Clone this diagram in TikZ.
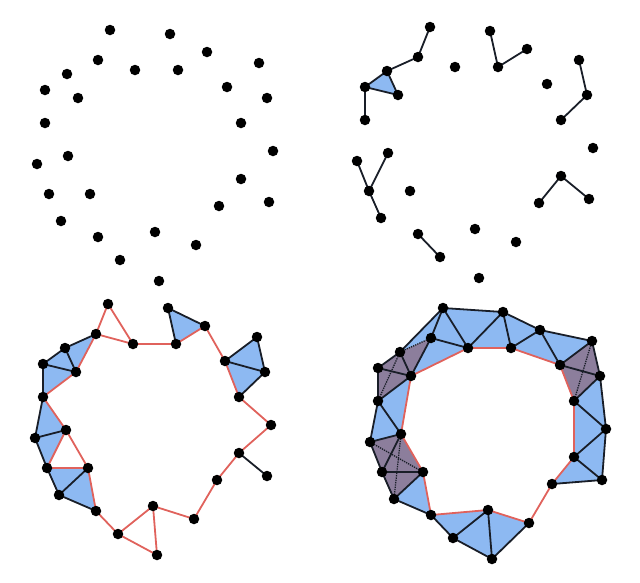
\documentclass[tikz,border=0pt]{standalone}
\definecolor{triblue}{RGB}{141,185,242}
\definecolor{tetpurple}{RGB}{140,126,156}
\definecolor{cycred}{RGB}{224,98,92}
\definecolor{edgeblack}{RGB}{25,30,40}
\tikzset{
  dot/.style={circle,fill=black,inner sep=0pt,minimum size=10.5pt},
  edge/.style={draw=edgeblack,line width=1.8pt},
  cyc/.style={draw=cycred,line width=1.8pt},
  hid/.style={draw=edgeblack,densely dotted,line width=1.3pt},
  tri/.style={fill=triblue},
  tet/.style={fill=tetpurple},
}
% the same point cloud in every panel
\newcommand{\setpoints}[1]{%
  \coordinate (#11) at (110,30);
  \coordinate (#12) at (170,34);
  \coordinate (#13) at (207,52);
  \coordinate (#14) at (259,63);
  \coordinate (#15) at (98,60);
  \coordinate (#16) at (67,74);
  \coordinate (#17) at (135,70);
  \coordinate (#18) at (178,70);
  \coordinate (#19) at (227,87);
  \coordinate (#110) at (45,90);
  \coordinate (#111) at (78,98);
  \coordinate (#112) at (267,98);
  \coordinate (#113) at (45,123);
  \coordinate (#114) at (241,123);
  \coordinate (#115) at (273,151);
  \coordinate (#116) at (68,156);
  \coordinate (#117) at (37,164);
  \coordinate (#118) at (241,179);
  \coordinate (#119) at (49,194);
  \coordinate (#120) at (90,194);
  \coordinate (#121) at (219,206);
  \coordinate (#122) at (269,202);
  \coordinate (#123) at (61,221);
  \coordinate (#124) at (98,237);
  \coordinate (#125) at (155,232);
  \coordinate (#126) at (196,245);
  \coordinate (#127) at (120,260);
  \coordinate (#128) at (159,281);
}
\newcommand{\putdots}[1]{%
  \foreach \i in {1,...,28} \node[dot] (#1d\i) at (#1\i) {};
}

\begin{document}
\begin{tikzpicture}[x=1pt,y=-1pt]
  \useasboundingbox (0,0) rectangle (640,582);

  % points only
  \begin{scope}
    \setpoints{a}
    \putdots{a}
  \end{scope}

  % first edges
  \begin{scope}[shift={(320,-3)}]
    \setpoints{b}
    \fill[tri] (b6) -- (b10) -- (b11) -- cycle;
    \foreach \u/\v in {1/5,5/6,6/10,6/11,10/11,10/13,2/8,8/3,4/12,12/14,
                       17/19,16/19,19/23,18/21,18/22,24/27}
      \draw[edge] (b\u) -- (b\v);
    \putdots{b}
  \end{scope}

  % a cycle appears
  \begin{scope}[shift={(-2,274)}]
    \setpoints{c}
    \foreach \u/\v/\w in {2/3/8,4/9/12,9/12/14,5/6/11,6/10/11,10/11/13,
                          13/16/17,16/17/19,19/20/23,20/23/24}
      \fill[tri] (c\u) -- (c\v) -- (c\w) -- cycle;
    \foreach \u/\v in {2/3,2/8,4/9,4/12,9/12,12/14,18/22,20/23,23/24,19/23,
                       17/19,16/17,13/17,10/13,10/11,6/10,6/11,5/6}
      \draw[edge] (c\u) -- (c\v);
    \foreach \u/\v in {1/5,1/7,5/7,7/8,8/3,3/9,9/14,14/15,15/18,18/21,21/26,
                       26/25,25/27,25/28,27/28,27/24,24/20,20/19,19/16,16/20,
                       16/13,13/11,11/5}
      \draw[cyc] (c\u) -- (c\v);
    \putdots{c}
  \end{scope}

  % the ring filled in
  \begin{scope}[shift={(333,278)}]
    \setpoints{d}
    \foreach \u/\v/\w in {1/2/7,2/7/8,2/3/8,3/8/9,3/4/9,12/14/15,14/15/18,
                          15/18/22,18/21/22,25/26/28,25/27/28,24/25/27,
                          20/23/24,13/16/17,11/13/16,5/7/11,1/5/7,1/5/6}
      \fill[tri] (d\u) -- (d\v) -- (d\w) -- cycle;
    \fill[tet] (d10) -- (d6) -- (d5) -- (d11) -- (d13) -- cycle;
    \fill[tet] (d4) -- (d9) -- (d14) -- (d12) -- cycle;
    \fill[tet] (d17) -- (d16) -- (d20) -- (d23) -- (d19) -- cycle;
    \foreach \u/\v in {5/6,6/13,4/14,17/20,16/23}
      \draw[hid] (d\u) -- (d\v);
    \foreach \u/\v in {1/2,1/7,2/7,2/8,2/3,3/8,3/9,3/4,4/9,4/12,9/12,12/14,
                       12/15,14/15,15/18,15/22,18/22,21/22,26/28,25/28,27/28,
                       25/27,24/27,23/24,19/23,20/23,19/20,17/19,16/19,16/17,
                       13/17,13/16,11/13,10/13,10/11,6/10,6/11,5/11,5/7,1/5,1/6}
      \draw[edge] (d\u) -- (d\v);
    \foreach \u/\v in {7/8,8/9,9/14,14/18,18/21,21/26,26/25,25/24,24/20,20/16,
                       16/11,11/7}
      \draw[cyc] (d\u) -- (d\v);
    \putdots{d}
  \end{scope}
\end{tikzpicture}
\end{document}
